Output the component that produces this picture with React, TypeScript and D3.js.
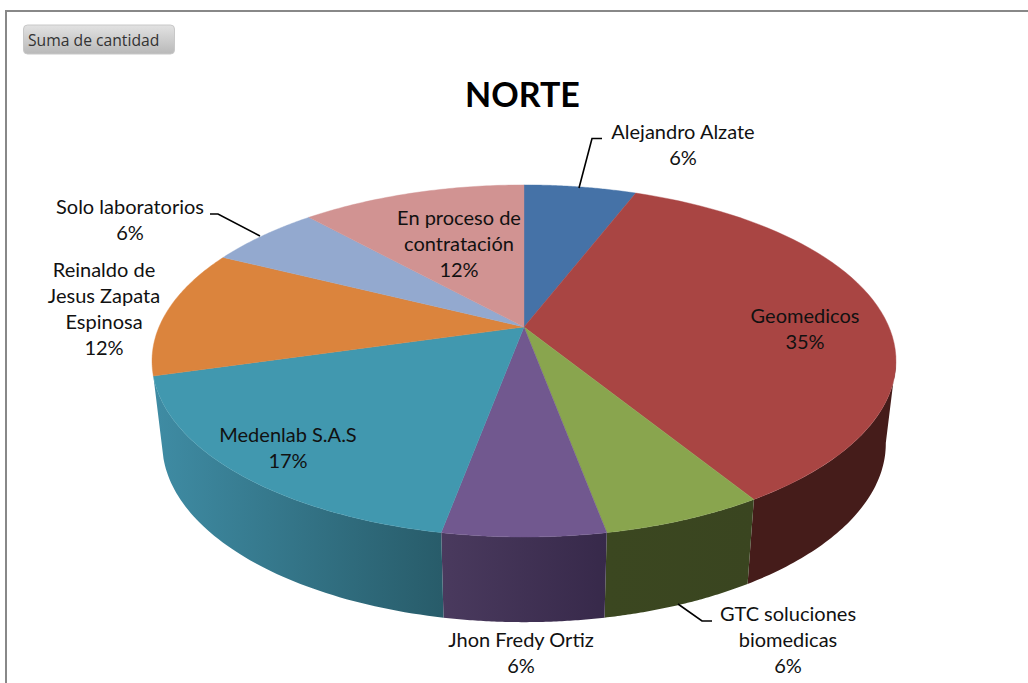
import React from "react";
import * as d3 from "d3";

const W = 1028, H = 683;
const categories = ["Alejandro Alzate", "Geomedicos", "GTC soluciones biomedicas", "Jhon Fredy Ortiz", "Medenlab S.A.S", "Reinaldo de Jesus Zapata Espinosa", "Solo laboratorios", "En proceso de contratación"];
const counts = [1, 6, 1, 1, 3, 2, 1, 2];
const colors = ["#4572A7", "#A94543", "#89A54E", "#71588F", "#4198AF", "#DB843D", "#93A9CF", "#D19392"];
const sideLeft = ["#2a4466", "#451c1a", "#3b4720", "#4a3a5e", "#3f8ca4", "#854f24", "#5a677e", "#7f5958"];
const sideRight = ["#2a4466", "#451c1a", "#3a4520", "#37294a", "#285c6a", "#854f24", "#5a677e", "#7f5958"];

const labelLines = [
  ["Alejandro Alzate", "6%"],
  ["Geomedicos", "35%"],
  ["GTC soluciones", "biomedicas", "6%"],
  ["Jhon Fredy Ortiz", "6%"],
  ["Medenlab S.A.S", "17%"],
  ["Reinaldo de", "Jesus Zapata", "Espinosa", "12%"],
  ["Solo laboratorios", "6%"],
  ["En proceso de", "contratación", "12%"],
];
const labelAnchors: [number, number][] = [[683, 132], [805, 316], [788, 614], [521, 640], [288, 435], [104, 270], [130, 207], [459, 218]];
const leaders: [number, number][][] = [
  [[579, 188], [592, 138.5], [602, 138.5]],
  [[678, 604], [702, 621], [712, 621]],
  [[210, 214], [218, 214], [260, 236]],
];

const top = { cx: 524, cy: 327, A: 365, B: 169.5, p: 0.193 };
const bot = { cx: 524, cy: 409, A: 355, B: 172, p: 0.193 };
const project = (f: typeof top, t: number): [number, number] => {
  const u = Math.sin(t), v = -Math.cos(t), d = 1 - f.p * v;
  return [f.cx + (f.A * u) / d, f.cy + (f.B * v) / d];
};
const sample = (a: number, b: number) => d3.range(0, 61).map((i) => a + ((b - a) * i) / 60);
const line = d3.line<[number, number]>();
const arcs = d3.pie<number>().sort(null)(counts);
const frontA = (101 * Math.PI) / 180, frontB = arcs[4].endAngle;
const FONT = "Lato, Carlito, sans-serif";

export default function App() {
  return (
    <svg width={W} height={H} viewBox={`0 0 ${W} ${H}`} style={{ position: "absolute", left: 0, top: 0, background: "#fff" }}>
      <defs>
        <linearGradient id="btn" x1="0" y1="0" x2="0" y2="1">
          <stop offset="0" stopColor="#e2e2e2" />
          <stop offset="1" stopColor="#b9b9b9" />
        </linearGradient>
        {arcs.map((s, i) => {
          const xs = sample(Math.max(s.startAngle, frontA), Math.min(s.endAngle, frontB)).map((t) => project(top, t)[0]);
          return (
            <linearGradient key={i} id={`side${i}`} gradientUnits="userSpaceOnUse" x1={d3.min(xs)} x2={d3.max(xs)} y1={0} y2={0}>
              <stop offset="0" stopColor={sideLeft[i]} />
              <stop offset="1" stopColor={sideRight[i]} />
            </linearGradient>
          );
        })}
      </defs>
      <path d={`M6,${H}V11H${W}`} fill="none" stroke="#888" strokeWidth={2} />
      <rect x={23.5} y={25} width={151} height={29} rx={4} fill="url(#btn)" stroke="#c8c8c8" />
      <text x={28} y={46} fontFamily="'Open Sans', sans-serif" fontSize={15.7} fill="#333">Suma de cantidad</text>
      <text x={522.5} y={107} textAnchor="middle" fontFamily={FONT} fontWeight={700} fontSize={34} fill="#000">NORTE</text>

      {arcs.map((s, i) => {
        const a = Math.max(s.startAngle, frontA), b = Math.min(s.endAngle, frontB);
        if (a >= b) return null;
        const pts = [...sample(a, b).map((t) => project(top, t)), ...sample(b, a).map((t) => project(bot, t))];
        return <path key={i} d={line(pts) + "Z"} fill={`url(#side${i})`} />;
      })}
      {arcs.map((s, i) => {
        const pts: [number, number][] = [[top.cx, top.cy], ...sample(s.startAngle, s.endAngle).map((t) => project(top, t))];
        return <path key={i} d={line(pts) + "Z"} fill={colors[i]} stroke={colors[i]} strokeWidth={0.4} aria-label={categories[i]} />;
      })}
      {leaders.map((l, i) => (
        <path key={i} d={line(l)!} fill="none" stroke="#000" strokeWidth={1.6} />
      ))}
      {labelLines.map((ls, i) => (
        <g key={i}>
          {ls.map((t, j) => (
            <text key={j} x={labelAnchors[i][0]} y={labelAnchors[i][1] + j * 26} dy="0.35em" textAnchor="middle" fontFamily={FONT} fontSize={20} fill="#111">{t}</text>
          ))}
        </g>
      ))}
    </svg>
  );
}
